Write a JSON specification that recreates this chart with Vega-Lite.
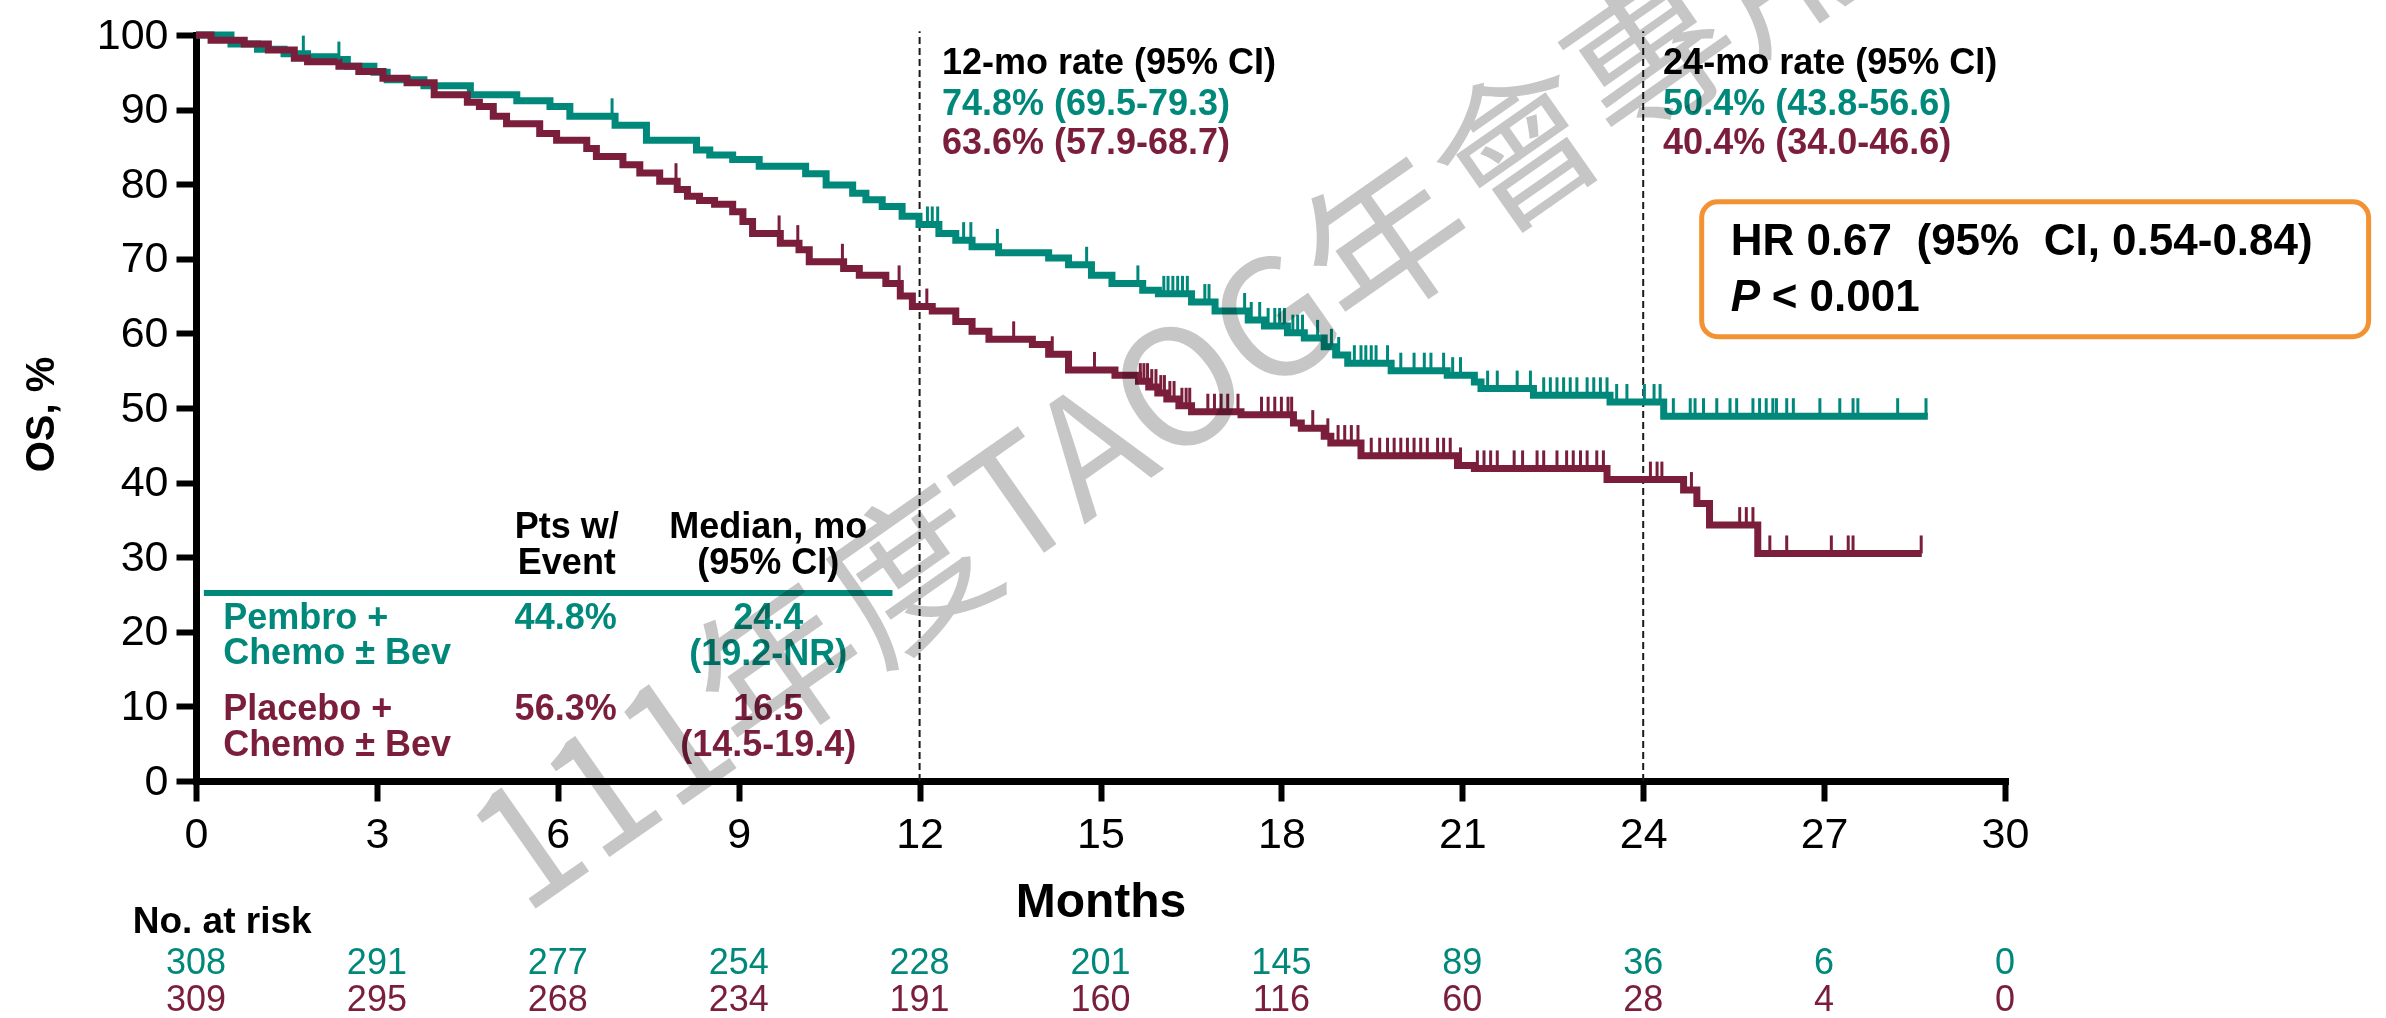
{
  "$schema": "https://vega.github.io/schema/vega-lite/v6.json",
  "width": 1809,
  "height": 746,
  "autosize": {"type": "none"},
  "padding": {"left": 196, "top": 35, "right": 381, "bottom": 237},
  "background": "white",
  "config": {"view": {"stroke": null}, "font": "Liberation Sans"},
  "datasets": {
    "km": [
      {"arm":"Pembro","t":0,"s":100},{"arm":"Pembro","t":0.58,"s":98.8},{"arm":"Pembro","t":1.02,"s":98.1},{"arm":"Pembro","t":1.46,"s":97.5},{"arm":"Pembro","t":1.85,"s":97.1},{"arm":"Pembro","t":2.3,"s":96.7},{"arm":"Pembro","t":2.51,"s":95.8},{"arm":"Pembro","t":2.95,"s":95.0},{"arm":"Pembro","t":3.17,"s":94.0},{"arm":"Pembro","t":3.78,"s":93.2},{"arm":"Pembro","t":4.55,"s":92.0},{"arm":"Pembro","t":5.32,"s":91.2},{"arm":"Pembro","t":5.87,"s":90.4},{"arm":"Pembro","t":6.2,"s":89.1},{"arm":"Pembro","t":6.95,"s":87.9},{"arm":"Pembro","t":7.47,"s":85.9},{"arm":"Pembro","t":8.3,"s":84.6},{"arm":"Pembro","t":8.52,"s":83.9},{"arm":"Pembro","t":8.9,"s":83.3},{"arm":"Pembro","t":9.34,"s":82.4},{"arm":"Pembro","t":10.11,"s":81.4},{"arm":"Pembro","t":10.45,"s":79.9},{"arm":"Pembro","t":10.89,"s":78.8},{"arm":"Pembro","t":11.11,"s":77.9},{"arm":"Pembro","t":11.38,"s":77.0},{"arm":"Pembro","t":11.71,"s":75.7},{"arm":"Pembro","t":11.99,"s":74.6},{"arm":"Pembro","t":12.32,"s":73.4},{"arm":"Pembro","t":12.6,"s":72.5},{"arm":"Pembro","t":12.87,"s":71.6},{"arm":"Pembro","t":13.31,"s":70.8},{"arm":"Pembro","t":14.14,"s":70.1},{"arm":"Pembro","t":14.47,"s":69.2},{"arm":"Pembro","t":14.85,"s":67.8},{"arm":"Pembro","t":15.19,"s":66.7},{"arm":"Pembro","t":15.7,"s":65.8},{"arm":"Pembro","t":15.96,"s":65.3},{"arm":"Pembro","t":16.51,"s":64.2},{"arm":"Pembro","t":16.9,"s":63.0},{"arm":"Pembro","t":17.45,"s":61.8},{"arm":"Pembro","t":17.72,"s":61.0},{"arm":"Pembro","t":18.1,"s":60.1},{"arm":"Pembro","t":18.38,"s":59.4},{"arm":"Pembro","t":18.71,"s":58.2},{"arm":"Pembro","t":18.9,"s":57.1},{"arm":"Pembro","t":19.1,"s":56.0},{"arm":"Pembro","t":19.82,"s":55.0},{"arm":"Pembro","t":20.75,"s":54.4},{"arm":"Pembro","t":21.2,"s":53.5},{"arm":"Pembro","t":21.31,"s":52.6},{"arm":"Pembro","t":22.18,"s":51.7},{"arm":"Pembro","t":23.45,"s":50.8},{"arm":"Pembro","t":24.34,"s":48.9},{"arm":"Pembro","t":28.72,"s":48.9},
      {"arm":"Placebo","t":0,"s":100},{"arm":"Placebo","t":0.25,"s":99.3},{"arm":"Placebo","t":0.8,"s":98.8},{"arm":"Placebo","t":1.2,"s":98.0},{"arm":"Placebo","t":1.63,"s":96.9},{"arm":"Placebo","t":1.85,"s":96.4},{"arm":"Placebo","t":2.37,"s":95.8},{"arm":"Placebo","t":2.7,"s":95.1},{"arm":"Placebo","t":3.1,"s":94.2},{"arm":"Placebo","t":3.5,"s":93.6},{"arm":"Placebo","t":3.95,"s":92.0},{"arm":"Placebo","t":4.5,"s":91.0},{"arm":"Placebo","t":4.7,"s":90.4},{"arm":"Placebo","t":4.93,"s":89.1},{"arm":"Placebo","t":5.15,"s":88.1},{"arm":"Placebo","t":5.7,"s":86.8},{"arm":"Placebo","t":5.98,"s":85.9},{"arm":"Placebo","t":6.48,"s":84.8},{"arm":"Placebo","t":6.64,"s":83.7},{"arm":"Placebo","t":7.08,"s":82.6},{"arm":"Placebo","t":7.36,"s":81.5},{"arm":"Placebo","t":7.69,"s":80.4},{"arm":"Placebo","t":7.98,"s":79.3},{"arm":"Placebo","t":8.15,"s":78.4},{"arm":"Placebo","t":8.35,"s":77.8},{"arm":"Placebo","t":8.6,"s":77.3},{"arm":"Placebo","t":8.9,"s":76.3},{"arm":"Placebo","t":9.07,"s":75.0},{"arm":"Placebo","t":9.23,"s":73.4},{"arm":"Placebo","t":9.69,"s":72.1},{"arm":"Placebo","t":10.0,"s":71.2},{"arm":"Placebo","t":10.17,"s":69.6},{"arm":"Placebo","t":10.74,"s":68.7},{"arm":"Placebo","t":11.0,"s":67.8},{"arm":"Placebo","t":11.44,"s":66.7},{"arm":"Placebo","t":11.68,"s":65.0},{"arm":"Placebo","t":11.88,"s":63.6},{"arm":"Placebo","t":12.21,"s":63.0},{"arm":"Placebo","t":12.6,"s":61.6},{"arm":"Placebo","t":12.87,"s":60.3},{"arm":"Placebo","t":13.15,"s":59.2},{"arm":"Placebo","t":13.87,"s":58.5},{"arm":"Placebo","t":14.14,"s":57.2},{"arm":"Placebo","t":14.47,"s":55.1},{"arm":"Placebo","t":15.24,"s":54.4},{"arm":"Placebo","t":15.63,"s":53.6},{"arm":"Placebo","t":15.8,"s":52.8},{"arm":"Placebo","t":15.95,"s":52.0},{"arm":"Placebo","t":16.1,"s":51.2},{"arm":"Placebo","t":16.3,"s":50.3},{"arm":"Placebo","t":16.51,"s":49.5},{"arm":"Placebo","t":17.33,"s":49.1},{"arm":"Placebo","t":18.2,"s":48.0},{"arm":"Placebo","t":18.33,"s":47.3},{"arm":"Placebo","t":18.71,"s":46.2},{"arm":"Placebo","t":18.82,"s":45.3},{"arm":"Placebo","t":19.32,"s":43.6},{"arm":"Placebo","t":20.92,"s":42.3},{"arm":"Placebo","t":21.2,"s":41.9},{"arm":"Placebo","t":23.4,"s":40.4},{"arm":"Placebo","t":24.67,"s":39.0},{"arm":"Placebo","t":24.89,"s":37.2},{"arm":"Placebo","t":25.1,"s":34.3},{"arm":"Placebo","t":25.9,"s":30.5},{"arm":"Placebo","t":28.62,"s":30.5}
    ],
    "cens": [
      {"arm":"Pembro","t":1.78,"s":97.5},{"arm":"Pembro","t":2.37,"s":96.7},{"arm":"Pembro","t":6.9,"s":89.1},{"arm":"Pembro","t":12.13,"s":74.6},{"arm":"Pembro","t":12.21,"s":74.6},{"arm":"Pembro","t":12.3,"s":74.6},{"arm":"Pembro","t":12.73,"s":72.5},{"arm":"Pembro","t":12.85,"s":72.5},{"arm":"Pembro","t":13.29,"s":71.6},{"arm":"Pembro","t":14.77,"s":69.2},{"arm":"Pembro","t":15.62,"s":66.7},{"arm":"Pembro","t":16.05,"s":65.3},{"arm":"Pembro","t":16.12,"s":65.3},{"arm":"Pembro","t":16.2,"s":65.3},{"arm":"Pembro","t":16.28,"s":65.3},{"arm":"Pembro","t":16.36,"s":65.3},{"arm":"Pembro","t":16.44,"s":65.3},{"arm":"Pembro","t":16.73,"s":64.2},{"arm":"Pembro","t":16.8,"s":64.2},{"arm":"Pembro","t":17.39,"s":63.0},{"arm":"Pembro","t":17.5,"s":61.8},{"arm":"Pembro","t":17.64,"s":61.8},{"arm":"Pembro","t":17.78,"s":61.0},{"arm":"Pembro","t":17.89,"s":61.0},{"arm":"Pembro","t":17.97,"s":61.0},{"arm":"Pembro","t":18.05,"s":61.0},{"arm":"Pembro","t":18.19,"s":60.1},{"arm":"Pembro","t":18.27,"s":60.1},{"arm":"Pembro","t":18.35,"s":60.1},{"arm":"Pembro","t":18.6,"s":59.4},{"arm":"Pembro","t":18.83,"s":58.2},{"arm":"Pembro","t":18.95,"s":57.1},{"arm":"Pembro","t":19.21,"s":56.0},{"arm":"Pembro","t":19.32,"s":56.0},{"arm":"Pembro","t":19.4,"s":56.0},{"arm":"Pembro","t":19.49,"s":56.0},{"arm":"Pembro","t":19.57,"s":56.0},{"arm":"Pembro","t":19.76,"s":56.0},{"arm":"Pembro","t":19.98,"s":55.0},{"arm":"Pembro","t":20.2,"s":55.0},{"arm":"Pembro","t":20.37,"s":55.0},{"arm":"Pembro","t":20.48,"s":55.0},{"arm":"Pembro","t":20.69,"s":55.0},{"arm":"Pembro","t":20.84,"s":54.4},{"arm":"Pembro","t":20.97,"s":54.4},{"arm":"Pembro","t":21.42,"s":52.6},{"arm":"Pembro","t":21.58,"s":52.6},{"arm":"Pembro","t":21.91,"s":52.6},{"arm":"Pembro","t":22.13,"s":52.6},{"arm":"Pembro","t":22.35,"s":51.7},{"arm":"Pembro","t":22.46,"s":51.7},{"arm":"Pembro","t":22.57,"s":51.7},{"arm":"Pembro","t":22.68,"s":51.7},{"arm":"Pembro","t":22.79,"s":51.7},{"arm":"Pembro","t":22.9,"s":51.7},{"arm":"Pembro","t":23.07,"s":51.7},{"arm":"Pembro","t":23.18,"s":51.7},{"arm":"Pembro","t":23.29,"s":51.7},{"arm":"Pembro","t":23.4,"s":51.7},{"arm":"Pembro","t":23.56,"s":50.8},{"arm":"Pembro","t":23.73,"s":50.8},{"arm":"Pembro","t":24.02,"s":50.8},{"arm":"Pembro","t":24.18,"s":50.8},{"arm":"Pembro","t":24.28,"s":50.8},{"arm":"Pembro","t":24.5,"s":48.9},{"arm":"Pembro","t":24.78,"s":48.9},{"arm":"Pembro","t":24.86,"s":48.9},{"arm":"Pembro","t":25.0,"s":48.9},{"arm":"Pembro","t":25.22,"s":48.9},{"arm":"Pembro","t":25.44,"s":48.9},{"arm":"Pembro","t":25.55,"s":48.9},{"arm":"Pembro","t":25.82,"s":48.9},{"arm":"Pembro","t":25.93,"s":48.9},{"arm":"Pembro","t":26.04,"s":48.9},{"arm":"Pembro","t":26.15,"s":48.9},{"arm":"Pembro","t":26.21,"s":48.9},{"arm":"Pembro","t":26.38,"s":48.9},{"arm":"Pembro","t":26.49,"s":48.9},{"arm":"Pembro","t":26.93,"s":48.9},{"arm":"Pembro","t":27.26,"s":48.9},{"arm":"Pembro","t":27.48,"s":48.9},{"arm":"Pembro","t":27.56,"s":48.9},{"arm":"Pembro","t":28.22,"s":48.9},{"arm":"Pembro","t":28.69,"s":48.9},
      {"arm":"Placebo","t":7.96,"s":80.4},{"arm":"Placebo","t":9.67,"s":73.4},{"arm":"Placebo","t":9.98,"s":72.1},{"arm":"Placebo","t":10.72,"s":69.6},{"arm":"Placebo","t":11.66,"s":66.7},{"arm":"Placebo","t":12.12,"s":63.6},{"arm":"Placebo","t":13.56,"s":59.2},{"arm":"Placebo","t":14.2,"s":57.2},{"arm":"Placebo","t":14.9,"s":55.1},{"arm":"Placebo","t":15.66,"s":53.6},{"arm":"Placebo","t":15.72,"s":53.6},{"arm":"Placebo","t":15.78,"s":53.6},{"arm":"Placebo","t":15.85,"s":52.8},{"arm":"Placebo","t":15.92,"s":52.8},{"arm":"Placebo","t":16.0,"s":52.0},{"arm":"Placebo","t":16.06,"s":52.0},{"arm":"Placebo","t":16.15,"s":51.2},{"arm":"Placebo","t":16.22,"s":51.2},{"arm":"Placebo","t":16.35,"s":50.3},{"arm":"Placebo","t":16.42,"s":50.3},{"arm":"Placebo","t":16.48,"s":50.3},{"arm":"Placebo","t":16.78,"s":49.5},{"arm":"Placebo","t":16.89,"s":49.5},{"arm":"Placebo","t":17.0,"s":49.5},{"arm":"Placebo","t":17.11,"s":49.5},{"arm":"Placebo","t":17.28,"s":49.5},{"arm":"Placebo","t":17.67,"s":49.1},{"arm":"Placebo","t":17.78,"s":49.1},{"arm":"Placebo","t":17.89,"s":49.1},{"arm":"Placebo","t":18.0,"s":49.1},{"arm":"Placebo","t":18.11,"s":49.1},{"arm":"Placebo","t":18.17,"s":49.1},{"arm":"Placebo","t":18.52,"s":47.3},{"arm":"Placebo","t":18.77,"s":46.2},{"arm":"Placebo","t":18.94,"s":45.3},{"arm":"Placebo","t":19.05,"s":45.3},{"arm":"Placebo","t":19.16,"s":45.3},{"arm":"Placebo","t":19.27,"s":45.3},{"arm":"Placebo","t":19.49,"s":43.6},{"arm":"Placebo","t":19.63,"s":43.6},{"arm":"Placebo","t":19.76,"s":43.6},{"arm":"Placebo","t":19.87,"s":43.6},{"arm":"Placebo","t":19.98,"s":43.6},{"arm":"Placebo","t":20.09,"s":43.6},{"arm":"Placebo","t":20.2,"s":43.6},{"arm":"Placebo","t":20.31,"s":43.6},{"arm":"Placebo","t":20.42,"s":43.6},{"arm":"Placebo","t":20.59,"s":43.6},{"arm":"Placebo","t":20.69,"s":43.6},{"arm":"Placebo","t":20.8,"s":43.6},{"arm":"Placebo","t":20.97,"s":42.3},{"arm":"Placebo","t":21.25,"s":41.9},{"arm":"Placebo","t":21.36,"s":41.9},{"arm":"Placebo","t":21.47,"s":41.9},{"arm":"Placebo","t":21.58,"s":41.9},{"arm":"Placebo","t":21.86,"s":41.9},{"arm":"Placebo","t":22.0,"s":41.9},{"arm":"Placebo","t":22.24,"s":41.9},{"arm":"Placebo","t":22.35,"s":41.9},{"arm":"Placebo","t":22.57,"s":41.9},{"arm":"Placebo","t":22.73,"s":41.9},{"arm":"Placebo","t":22.84,"s":41.9},{"arm":"Placebo","t":22.96,"s":41.9},{"arm":"Placebo","t":23.07,"s":41.9},{"arm":"Placebo","t":23.23,"s":41.9},{"arm":"Placebo","t":23.34,"s":41.9},{"arm":"Placebo","t":24.12,"s":40.4},{"arm":"Placebo","t":24.23,"s":40.4},{"arm":"Placebo","t":24.31,"s":40.4},{"arm":"Placebo","t":24.8,"s":39.0},{"arm":"Placebo","t":25.6,"s":34.3},{"arm":"Placebo","t":25.71,"s":34.3},{"arm":"Placebo","t":25.82,"s":34.3},{"arm":"Placebo","t":26.1,"s":30.5},{"arm":"Placebo","t":26.38,"s":30.5},{"arm":"Placebo","t":27.12,"s":30.5},{"arm":"Placebo","t":27.4,"s":30.5},{"arm":"Placebo","t":27.48,"s":30.5},{"arm":"Placebo","t":28.61,"s":30.5}
    ],
    "risk": [
      {"arm":"Pembro","t":0,"s":-24.4,"label":"308"},{"arm":"Pembro","t":3,"s":-24.4,"label":"291"},{"arm":"Pembro","t":6,"s":-24.4,"label":"277"},{"arm":"Pembro","t":9,"s":-24.4,"label":"254"},{"arm":"Pembro","t":12,"s":-24.4,"label":"228"},{"arm":"Pembro","t":15,"s":-24.4,"label":"201"},{"arm":"Pembro","t":18,"s":-24.4,"label":"145"},{"arm":"Pembro","t":21,"s":-24.4,"label":"89"},{"arm":"Pembro","t":24,"s":-24.4,"label":"36"},{"arm":"Pembro","t":27,"s":-24.4,"label":"6"},{"arm":"Pembro","t":30,"s":-24.4,"label":"0"},
      {"arm":"Placebo","t":0,"s":-29.4,"label":"309"},{"arm":"Placebo","t":3,"s":-29.4,"label":"295"},{"arm":"Placebo","t":6,"s":-29.4,"label":"268"},{"arm":"Placebo","t":9,"s":-29.4,"label":"234"},{"arm":"Placebo","t":12,"s":-29.4,"label":"191"},{"arm":"Placebo","t":15,"s":-29.4,"label":"160"},{"arm":"Placebo","t":18,"s":-29.4,"label":"116"},{"arm":"Placebo","t":21,"s":-29.4,"label":"60"},{"arm":"Placebo","t":24,"s":-29.4,"label":"28"},{"arm":"Placebo","t":27,"s":-29.4,"label":"4"},{"arm":"Placebo","t":30,"s":-29.4,"label":"0"}
    ]
  },
  "encoding": {
    "x": {"field": "t", "type": "quantitative",
      "scale": {"domain": [0, 30], "nice": false, "zero": false},
      "axis": {"values": [0,3,6,9,12,15,18,21,24,27,30], "title": "Months", "titleFont": "Liberation Sans", "titleFontSize": 48, "titleFontWeight": "bold", "titleColor": "black", "titleY": 121, "titleBaseline": "middle",
        "labelFont": "Liberation Sans", "labelFontSize": 43, "labelColor": "black", "labelPadding": 12, "labelFlush": false, "labelOverlap": false,
        "tickSize": 20, "tickWidth": 6, "tickColor": "black", "domainColor": "black", "domainWidth": 7, "domainCap": "square", "grid": false}},
    "y": {"field": "s", "type": "quantitative",
      "scale": {"domain": [0, 100], "nice": false, "zero": false},
      "axis": {"values": [0,10,20,30,40,50,60,70,80,90,100], "title": "OS, %", "titleFont": "Liberation Sans", "titleFontSize": 40, "titleFontWeight": "bold", "titleColor": "black", "titleX": -155, "titleY": 379, "titleAngle": -90, "titleBaseline": "middle", "titleAlign": "center",
        "labelFont": "Liberation Sans", "labelFontSize": 43, "labelColor": "black", "labelPadding": 8, "labelFlush": false, "labelOverlap": false,
        "tickSize": 20, "tickWidth": 6, "tickColor": "black", "domainColor": "black", "domainWidth": 7, "domainCap": "square", "grid": false}},
    "color": {"field": "arm", "type": "nominal", "scale": {"domain": ["Pembro", "Placebo"], "range": ["#00897A", "#7A1E3C"]}, "legend": null}
  },
  "layer": [
    {
      "data": {"values": [{"t": 12, "s": 0, "s2": 100.5}, {"t": 24, "s": 0, "s2": 100.5}]},
      "mark": {"type": "rule", "color": "#1a1a1a", "strokeWidth": 2, "strokeDash": [7, 4]},
      "encoding": {"y2": {"field": "s2"}, "color": {"value": "#1a1a1a"}}
    },
    {
      "data": {"values": [{"t": 1}, {"t": 2}, {"t": 4}, {"t": 5}, {"t": 7}, {"t": 8}, {"t": 10}, {"t": 11}, {"t": 13}, {"t": 14}, {"t": 16}, {"t": 17}, {"t": 19}, {"t": 20}, {"t": 22}, {"t": 23}, {"t": 25}, {"t": 26}, {"t": 28}, {"t": 29}]},
      "mark": {"type": "tick", "orient": "vertical", "size": 12, "thickness": 5, "yOffset": 6, "color": "black"},
      "encoding": {"y": {"datum": 0}, "color": {"value": "black"}}
    },
    {
      "data": {"values": [{"arm": "Pembro", "t": 0.13, "t2": 11.55, "s": 25.2}]},
      "mark": {"type": "rule", "strokeWidth": 6},
      "encoding": {"x2": {"field": "t2"}}
    },
    {
      "data": {"name": "km"},
      "mark": {"type": "line", "interpolate": "step-after", "strokeWidth": 7},
      "encoding": {}
    },
    {
      "data": {"name": "cens"},
      "mark": {"type": "tick", "orient": "vertical", "size": 18, "thickness": 3, "yOffset": -9, "opacity": 1},
      "encoding": {}
    },
    {
      "data": {"values": [{"t": 12.37, "s": 96.2, "label": "12-mo rate (95% CI)"}, {"t": 24.33, "s": 96.2, "label": "24-mo rate (95% CI)"}]},
      "mark": {"type": "text", "align": "left", "baseline": "middle", "fontSize": 36, "fontWeight": "bold", "font": "Liberation Sans"},
      "encoding": {"text": {"field": "label"}, "color": {"value": "black"}}
    },
    {
      "data": {"values": [
        {"arm": "Pembro", "t": 12.37, "s": 90.8, "label": "74.8% (69.5-79.3)"},
        {"arm": "Placebo", "t": 12.37, "s": 85.5, "label": "63.6% (57.9-68.7)"},
        {"arm": "Pembro", "t": 24.33, "s": 90.8, "label": "50.4% (43.8-56.6)"},
        {"arm": "Placebo", "t": 24.33, "s": 85.5, "label": "40.4% (34.0-46.6)"}]},
      "mark": {"type": "text", "align": "left", "baseline": "middle", "fontSize": 36, "fontWeight": "bold", "font": "Liberation Sans"},
      "encoding": {"text": {"field": "label"}}
    },
    {
      "data": {"values": [
        {"t": 6.15, "s": 34.1, "label": "Pts w/"}, {"t": 6.15, "s": 29.2, "label": "Event"},
        {"t": 9.49, "s": 34.1, "label": "Median, mo"}, {"t": 9.49, "s": 29.2, "label": "(95% CI)"}]},
      "mark": {"type": "text", "align": "center", "baseline": "middle", "fontSize": 36, "fontWeight": "bold", "font": "Liberation Sans"},
      "encoding": {"text": {"field": "label"}, "color": {"value": "black"}}
    },
    {
      "data": {"values": [
        {"arm": "Pembro", "t": 0.45, "s": 21.8, "label": "Pembro +"}, {"arm": "Pembro", "t": 0.45, "s": 17.1, "label": "Chemo ± Bev"},
        {"arm": "Placebo", "t": 0.45, "s": 9.6, "label": "Placebo +"}, {"arm": "Placebo", "t": 0.45, "s": 4.8, "label": "Chemo ± Bev"}]},
      "mark": {"type": "text", "align": "left", "baseline": "middle", "fontSize": 36, "fontWeight": "bold", "font": "Liberation Sans"},
      "encoding": {"text": {"field": "label"}}
    },
    {
      "data": {"values": [
        {"arm": "Pembro", "t": 6.13, "s": 21.8, "label": "44.8%"}, {"arm": "Pembro", "t": 9.49, "s": 21.8, "label": "24.4"}, {"arm": "Pembro", "t": 9.49, "s": 17.0, "label": "(19.2-NR)"},
        {"arm": "Placebo", "t": 6.13, "s": 9.6, "label": "56.3%"}, {"arm": "Placebo", "t": 9.49, "s": 9.6, "label": "16.5"}, {"arm": "Placebo", "t": 9.49, "s": 4.8, "label": "(14.5-19.4)"}]},
      "mark": {"type": "text", "align": "center", "baseline": "middle", "fontSize": 36, "fontWeight": "bold", "font": "Liberation Sans"},
      "encoding": {"text": {"field": "label"}}
    },
    {
      "data": {"values": [{"t": 24.97, "t2": 36.03, "s": 77.65, "s2": 59.56}]},
      "mark": {"type": "rect", "fill": "white", "stroke": "#F39233", "strokeWidth": 5, "cornerRadius": 16},
      "encoding": {"x2": {"field": "t2"}, "y2": {"field": "s2"}, "color": {"value": "white"}}
    },
    {
      "data": {"values": [{"t": 25.45, "s": 72.3, "label": "HR 0.67\u00a0 (95%\u00a0 CI, 0.54-0.84)"}, {"t": 26.13, "s": 64.7, "label": "< 0.001"}]},
      "mark": {"type": "text", "align": "left", "baseline": "middle", "fontSize": 44, "fontWeight": "bold", "font": "Liberation Sans"},
      "encoding": {"text": {"field": "label"}, "color": {"value": "black"}}
    },
    {
      "data": {"values": [{"t": 25.45, "s": 64.7, "label": "P"}]},
      "mark": {"type": "text", "align": "left", "baseline": "middle", "fontSize": 44, "fontWeight": "bold", "fontStyle": "italic", "font": "Liberation Sans"},
      "encoding": {"text": {"field": "label"}, "color": {"value": "black"}}
    },
    {
      "data": {"values": [{"t": -1.05, "s": -18.9, "label": "No. at risk"}]},
      "mark": {"type": "text", "align": "left", "baseline": "middle", "fontSize": 37, "fontWeight": "bold", "font": "Liberation Sans"},
      "encoding": {"text": {"field": "label"}, "color": {"value": "black"}}
    },
    {
      "data": {"name": "risk"},
      "mark": {"type": "text", "align": "center", "baseline": "middle", "fontSize": 36, "font": "Liberation Sans"},
      "encoding": {"text": {"field": "label"}}
    },
    {
      "data": {"values": [{"t": 16.25, "s": 51.0, "label": "111年度TAOG年會專用"}]},
      "mark": {"type": "text", "align": "center", "baseline": "middle", "fontSize": 162, "fontWeight": "normal", "angle": -35, "font": "Noto Sans CJK TC", "blend": "multiply"},
      "encoding": {"text": {"field": "label"}, "color": {"value": "#c6c6c6"}}
    }
  ]
}
